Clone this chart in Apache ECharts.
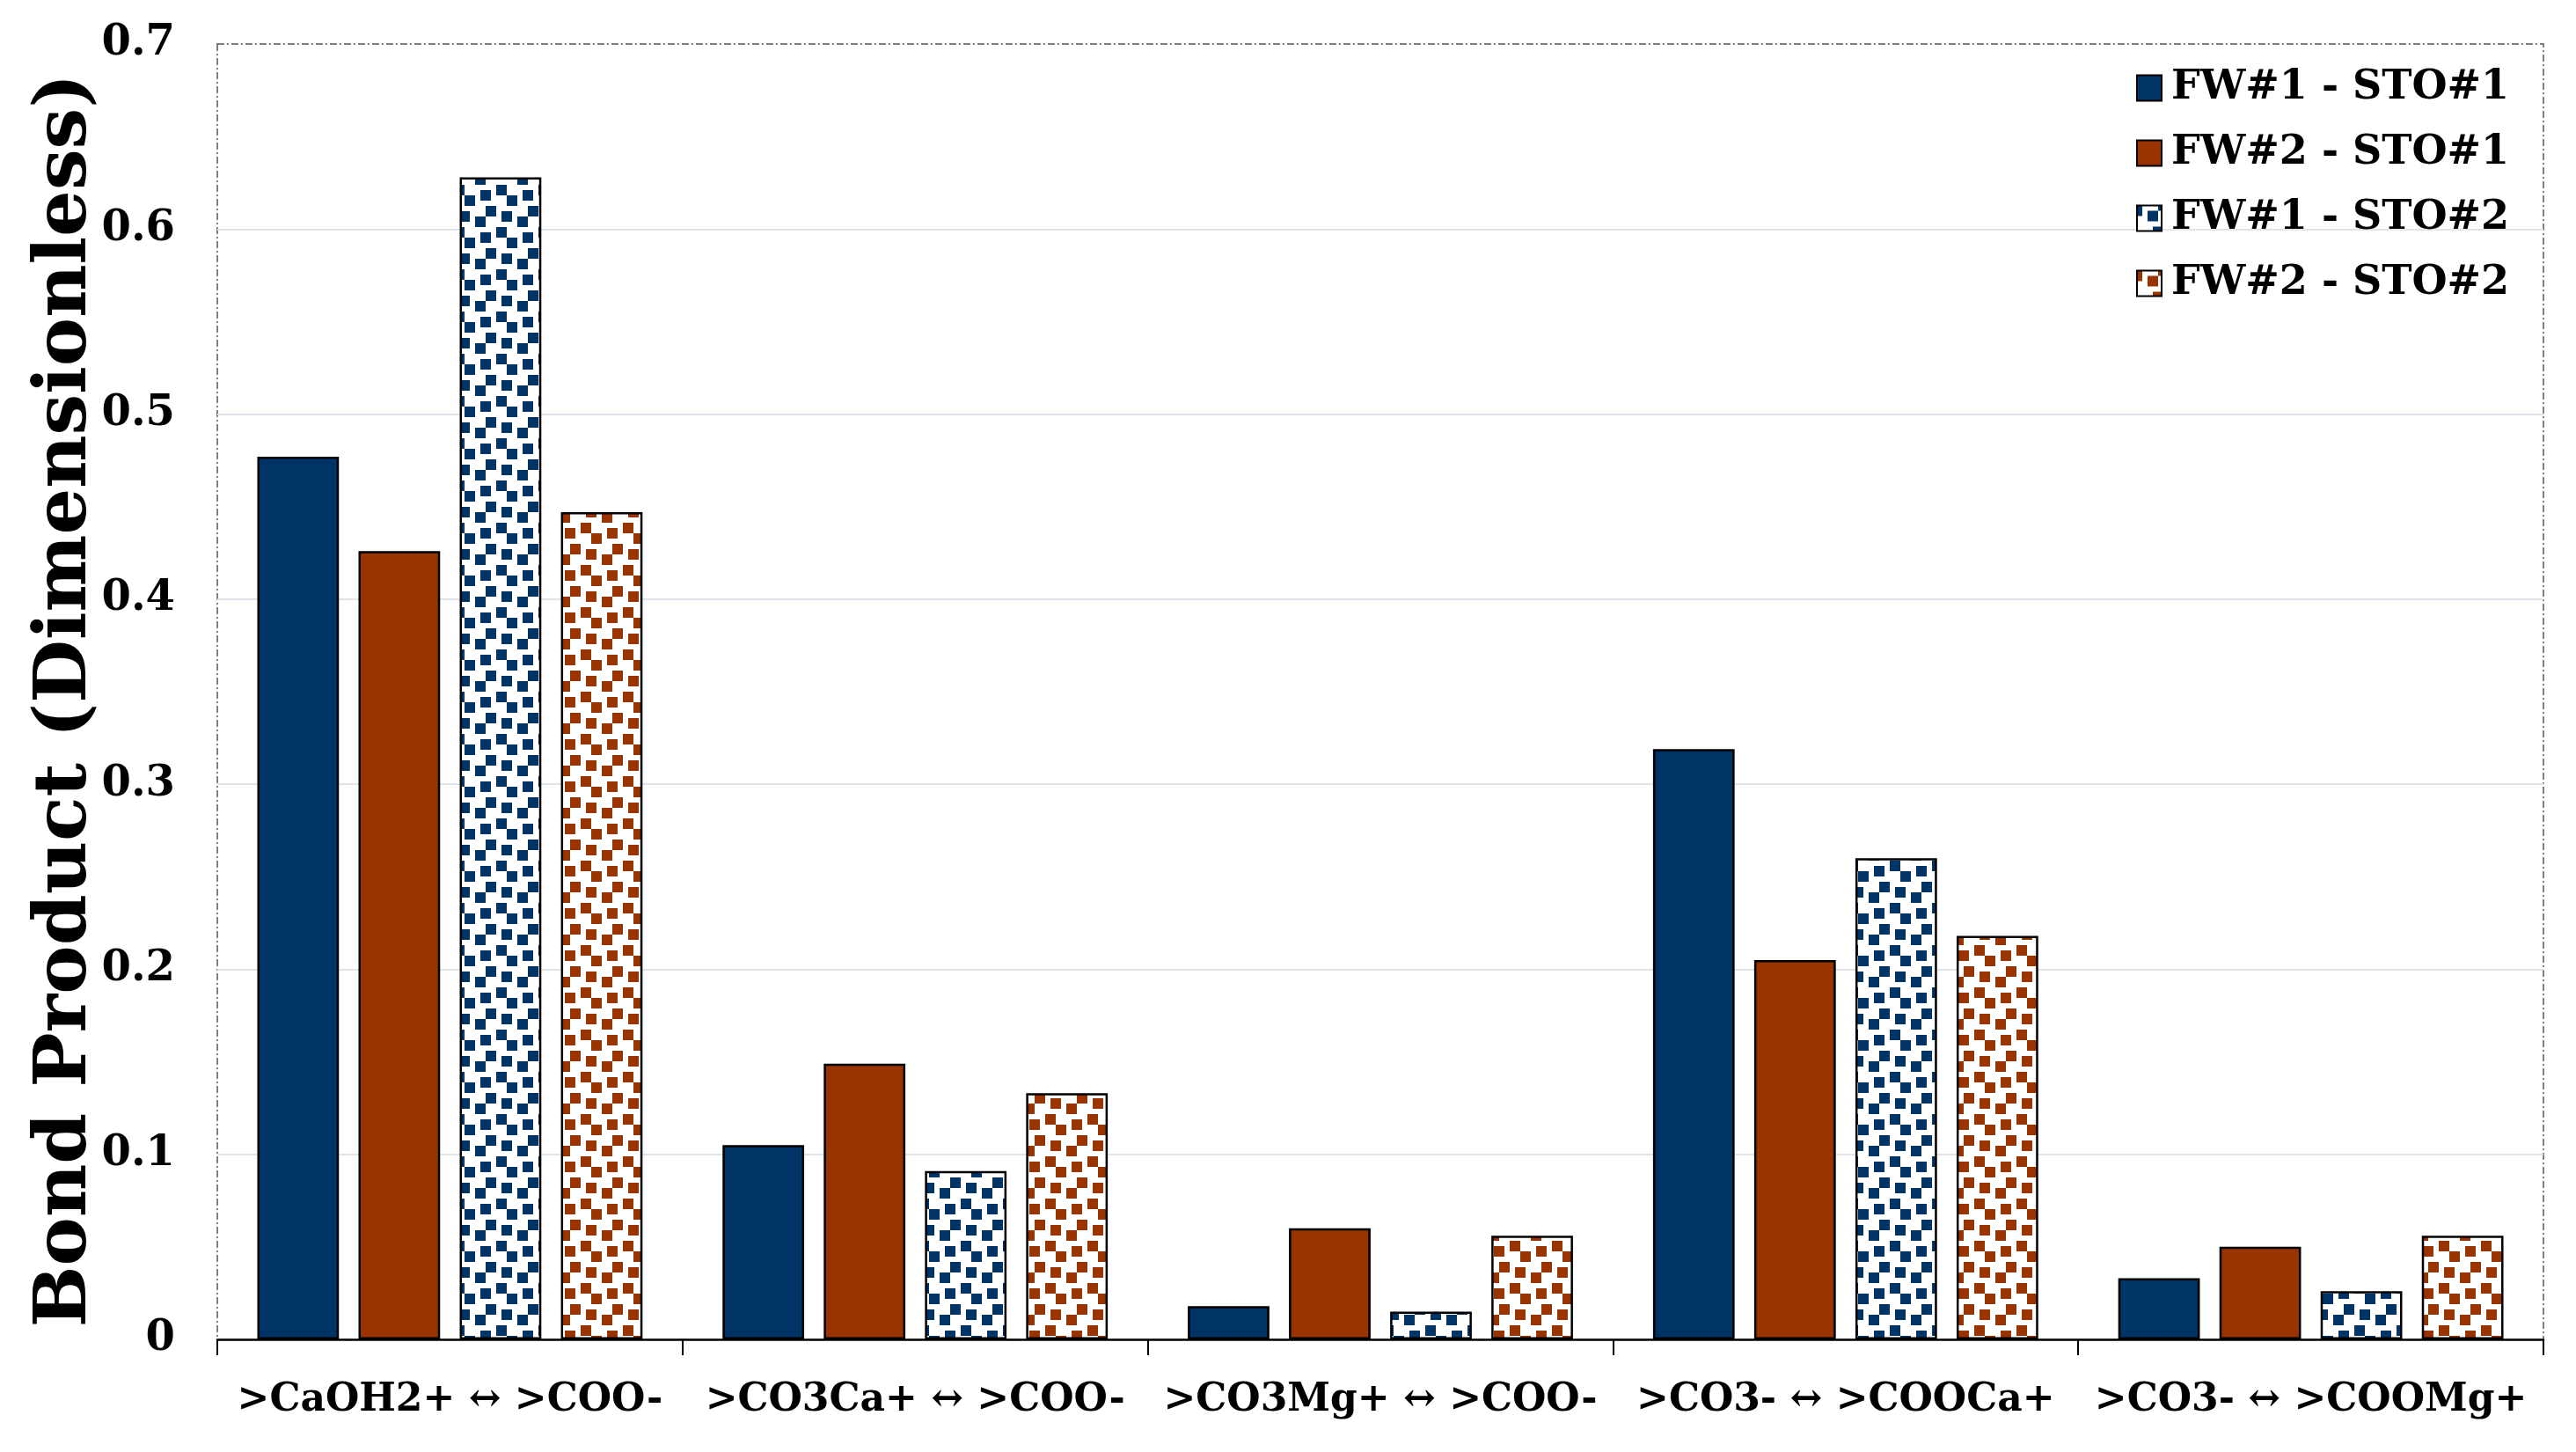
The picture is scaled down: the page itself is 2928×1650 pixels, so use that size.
<!DOCTYPE html>
<html>
<head>
<meta charset="utf-8">
<script src="https://cdn.jsdelivr.net/npm/echarts@6/dist/echarts.min.js"></script>
<style>
html,body{margin:0;padding:0;background:#fff;}
#chart{width:2928px;height:1650px;}
</style>
</head>
<body>
<div id="chart"></div>
<script>
// ---- data ----
const categories = ['>CaOH2+ \u2194 >COO-', '>CO3Ca+ \u2194 >COO-', '>CO3Mg+ \u2194 >COO-', '>CO3- \u2194 >COOCa+', '>CO3- \u2194 >COOMg+'];
const seriesNames = ['FW#1 - STO#1', 'FW#2 - STO#1', 'FW#1 - STO#2', 'FW#2 - STO#2'];
const fw1sto1 = [0.477, 0.105, 0.018, 0.319, 0.033];
const fw2sto1 = [0.426, 0.149, 0.060, 0.205, 0.050];
const fw1sto2 = [0.628, 0.091, 0.015, 0.260, 0.026];
const fw2sto2 = [0.447, 0.133, 0.056, 0.218, 0.056];
const yTickLabels = ['0', '0.1', '0.2', '0.3', '0.4', '0.5', '0.6', '0.7'];

const NAVY = '#003366';
const BROWN = '#993300';
const FONT = 'DejaVu Serif';

function confetti(color) {
  const c = document.createElement('canvas');
  c.width = 48; c.height = 48;
  const g = c.getContext('2d');
  g.fillStyle = '#ffffff';
  g.fillRect(0, 0, 48, 48);
  g.fillStyle = color;
  const cells = [[2,1],[7,0],[4,7],[6,3],[3,4],[0,5]];
  cells.forEach(([cx, cy]) => {
    for (let dx = 0; dx < 2; dx++) for (let dy = 0; dy < 2; dy++) {
      const x = ((cx + dx) % 8) * 6, y = ((cy + dy) % 8) * 6;
      g.fillRect(x, y, 6, 6);
    }
  });
  return { image: c, repeat: 'repeat' };
}

const fills = [NAVY, BROWN, confetti(NAVY), confetti(BROWN)];
const values = [fw1sto1, fw2sto1, fw1sto2, fw2sto2];

const chart = echarts.init(document.getElementById('chart'), null, { renderer: 'canvas' });
chart.setOption({
  animation: false,
  backgroundColor: '#ffffff',
  grid: {
    left: 247, right: 37, top: 50, bottom: 128,
    show: true, borderColor: '#808080', borderWidth: 2, borderType: [8, 3, 2, 3]
  },
  legend: {
    orient: 'vertical',
    left: 2428, top: 77,
    padding: 0,
    itemWidth: 28, itemHeight: 29,
    itemGap: 28,
    icon: 'rect',
    textStyle: { fontFamily: FONT, fontWeight: 'bold', fontSize: 46, lineHeight: 46, color: '#000', padding: [0, 0, 0, 6] },
    data: seriesNames
  },
  xAxis: {
    type: 'category',
    data: categories,
    axisLine: { show: true, lineStyle: { color: '#000', width: 2.5 } },
    axisTick: { show: true, length: 18, lineStyle: { color: '#000', width: 2 } },
    axisLabel: { fontFamily: FONT, fontWeight: 'bold', fontSize: 44, color: '#000', margin: 48, interval: 0 },
    splitLine: { show: false }
  },
  yAxis: {
    type: 'value',
    min: 0, max: 0.7, interval: 0.1,
    name: 'Bond Product (Dimensionless)',
    nameLocation: 'middle',
    nameGap: 130,
    nameMoveOverlap: false,
    nameTextStyle: { fontFamily: FONT, fontWeight: 'bold', fontSize: 83, color: '#000', padding: [0, 20, 0, 0] },
    axisLine: { show: false },
    axisTick: { show: false },
    axisLabel: {
      fontFamily: FONT, fontWeight: 'bold', fontSize: 48, color: '#000', margin: 48,
      formatter: (v) => yTickLabels[Math.round(v * 10)]
    },
    splitLine: { show: true, showMaxLine: false, lineStyle: { color: '#dfe4ea', width: 2 } }
  },
  series: seriesNames.map((name, i) => ({
    name: name,
    type: 'bar',
    data: values[i],
    barGap: '24%',
    barCategoryGap: '17.2%',
    itemStyle: { color: fills[i], borderColor: '#000', borderWidth: 2.5 }
  }))
});
</script>
</body>
</html>
